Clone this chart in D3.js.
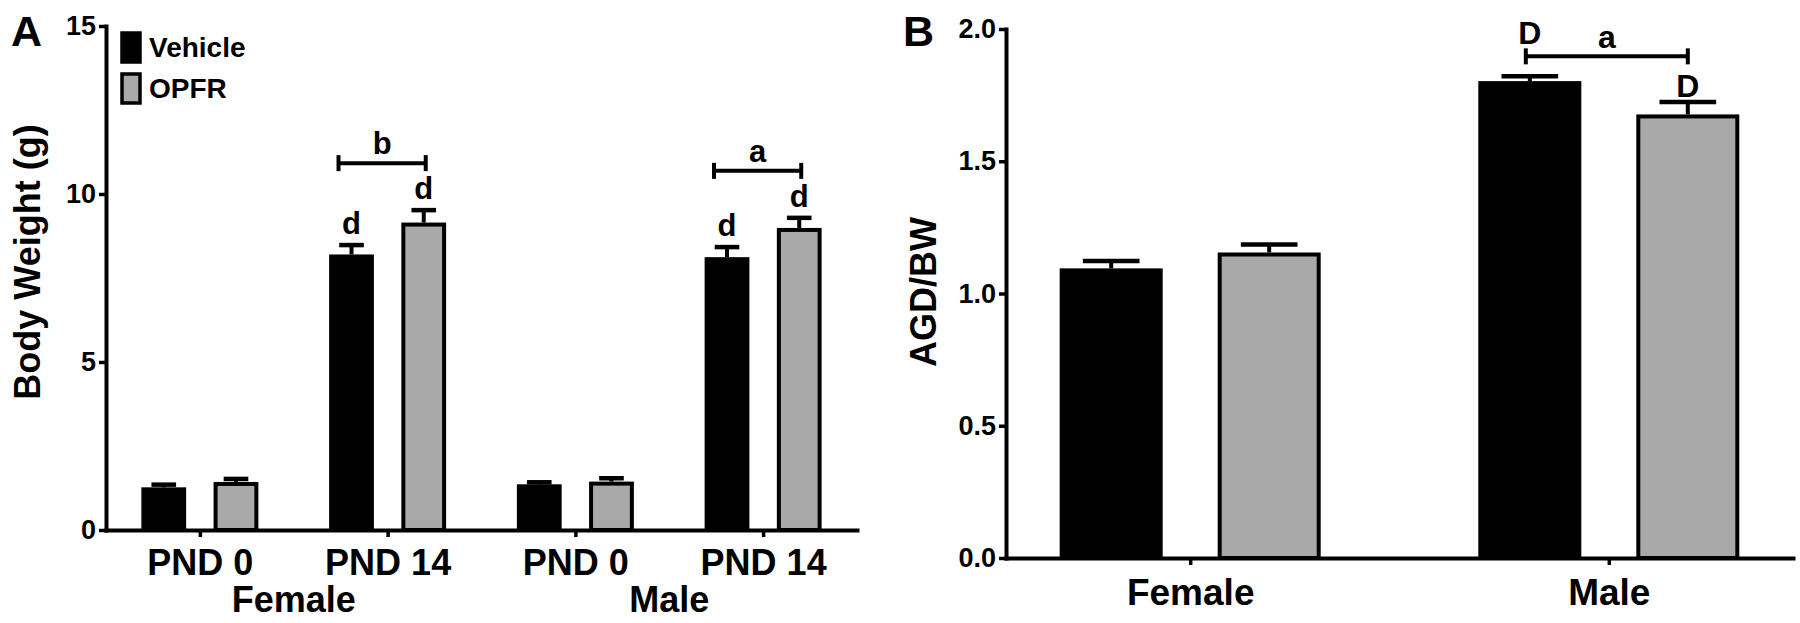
<!DOCTYPE html>
<html>
<head>
<meta charset="utf-8">
<script src="https://cdn.jsdelivr.net/npm/d3@7"></script>
<style>
  body { margin: 0; background: #fff; }
  svg { display: block; font-family: 'Liberation Sans', Arial, Helvetica, sans-serif; font-weight: bold; }
</style>
</head>
<body>
<div id="chart"></div>
<script>
'use strict';

const series = ['Vehicle', 'OPFR'];

// Panel A - body weight (g)
const bwGroups = ['F-PND0', 'F-PND14', 'M-PND0', 'M-PND14'];
const bwGroupLabels = ['PND 0', 'PND 14', 'PND 0', 'PND 14'];
const bwSexLabels = ['Female', 'Male'];
const bwVehicle = [1.27, 8.2, 1.36, 8.12];
const bwVehicleSem = [0.08, 0.28, 0.06, 0.3];
const bwOpfr = [1.43, 9.15, 1.44, 8.99];
const bwOpfrSem = [0.09, 0.37, 0.1, 0.3];
const bwTicks = [0, 5, 10, 15];
const bwLetters = [['', ''], ['d', 'd'], ['', ''], ['d', 'd']];
const bwBrackets = ['', 'b', '', 'a'];

// Panel B - AGD/BW
const agdGroups = ['Female', 'Male'];
const agdVehicle = [1.095, 1.803];
const agdVehicleSem = [0.028, 0.018];
const agdOpfr = [1.155, 1.677];
const agdOpfrSem = [0.03, 0.047];
const agdTicks = [0, 0.5, 1.0, 1.5, 2.0];
const agdLetters = [['', ''], ['D', 'D']];
const agdBrackets = ['', 'a'];

const GREY = '#a9a9a9';
const FONT = "'Liberation Sans', Arial, Helvetica, sans-serif";

const svg = d3.select('#chart').append('svg').attr('width', 1800).attr('height', 623);

const drawPanel = cfg => {
  const x = d3.scalePoint().domain(cfg.groups).range(cfg.xRange).padding(cfg.xPad);
  const inner = d3.scaleBand().domain(series).range([-cfg.half, cfg.half]).paddingInner(cfg.inner);
  const y = d3.scaleLinear().domain(cfg.yDomain).range(cfg.yRange);
  const bw = inner.bandwidth();
  const g = svg.append('g');

  const rows = cfg.groups.flatMap((grp, i) => [
    { grp, i, s: 'Vehicle', v: cfg.vehicle[i], e: cfg.vehicleSem[i], letter: cfg.letters[i][0] },
    { grp, i, s: 'OPFR', v: cfg.opfr[i], e: cfg.opfrSem[i], letter: cfg.letters[i][1] }
  ]);
  const cx = d => x(d.grp) + inner(d.s) + bw / 2;

  // error bars (upper only)
  g.selectAll('line.err').data(rows).join('line')
    .attr('x1', cx).attr('x2', cx)
    .attr('y1', d => y(d.v)).attr('y2', d => y(d.v + d.e))
    .attr('stroke', '#000').attr('stroke-width', 4);
  g.selectAll('line.cap').data(rows).join('line')
    .attr('x1', d => cx(d) - bw * cfg.cap / 2).attr('x2', d => cx(d) + bw * cfg.cap / 2)
    .attr('y1', d => y(d.v + d.e)).attr('y2', d => y(d.v + d.e))
    .attr('stroke', '#000').attr('stroke-width', 4.5);

  // bars
  g.selectAll('rect.bar').data(rows).join('rect')
    .attr('x', d => cx(d) - bw / 2 + 2)
    .attr('y', d => y(d.v) + 2)
    .attr('width', bw - 4)
    .attr('height', d => y(0) - y(d.v) - 2)
    .attr('fill', d => (d.s === 'Vehicle' ? '#000' : GREY))
    .attr('stroke', '#000')
    .attr('stroke-width', 4);

  // axes
  const yAxis = g.append('g')
    .attr('transform', `translate(${cfg.xRange[0]},0)`)
    .call(d3.axisLeft(y).tickValues(cfg.ticks).tickFormat(cfg.fmt).tickSize(7).tickSizeOuter(0).tickPadding(3));
  const xAxis = g.append('g')
    .attr('transform', `translate(0,${cfg.yRange[0]})`)
    .call(d3.axisBottom(x).tickFormat((d, i) => cfg.tickLabels[i]).tickSize(7).tickSizeOuter(0).tickPadding(cfg.xTickPad));
  [yAxis, xAxis].forEach(a => {
    a.attr('font-family', FONT).attr('font-weight', 'bold');
    a.select('.domain').attr('stroke-width', 4).attr('stroke-linecap', 'square');
    a.selectAll('.tick line').attr('stroke-width', 3.5);
    a.selectAll('.tick text').attr('fill', '#000');
  });
  yAxis.attr('font-size', 27);
  xAxis.attr('font-size', cfg.xFont);

  // brackets
  const brackets = cfg.groups.map((grp, i) => ({ grp, i, label: cfg.brackets[i] })).filter(b => b.label);
  const bracketY = {};
  brackets.forEach(b => {
    const pair = rows.filter(r => r.i === b.i);
    const top = d3.min(pair, r => y(r.v + r.e));
    const by = top - cfg.brGap;
    bracketY[b.i] = by;
    const x1 = cx(pair[0]) + cfg.brL;
    const x2 = cx(pair[1]) + cfg.brR;
    g.append('line').attr('x1', x1).attr('x2', x2).attr('y1', by).attr('y2', by)
      .attr('stroke', '#000').attr('stroke-width', 4);
    [x1, x2].forEach(xx => g.append('line').attr('x1', xx).attr('x2', xx)
      .attr('y1', by - 8).attr('y2', by + 8).attr('stroke', '#000').attr('stroke-width', 4));
    g.append('text').attr('x', (x1 + x2) / 2).attr('y', by - cfg.labGap)
      .attr('text-anchor', 'middle').attr('font-size', cfg.letterFont).text(b.label);
  });

  // significance letters
  g.selectAll('text.letter').data(rows.filter(r => r.letter)).join('text')
    .attr('x', cx)
    .attr('y', d => {
      if (cfg.raiseVehicle && d.s === 'Vehicle' && bracketY[d.i] !== undefined) return bracketY[d.i] - 12;
      return y(d.v + d.e) - cfg.letterGap;
    })
    .attr('text-anchor', 'middle')
    .attr('font-size', cfg.letterFont)
    .text(d => d.letter);

  // y title
  g.append('text')
    .attr('transform', `translate(${cfg.titleX},${cfg.titleY}) rotate(-90)`)
    .attr('text-anchor', 'middle')
    .attr('font-size', 36)
    .text(cfg.title);

  return { x, y, g };
};

// Panel A
const A = drawPanel({
  groups: bwGroups, tickLabels: bwGroupLabels,
  vehicle: bwVehicle, vehicleSem: bwVehicleSem, opfr: bwOpfr, opfrSem: bwOpfrSem,
  letters: bwLetters, brackets: bwBrackets, ticks: bwTicks, fmt: d3.format('d'),
  xRange: [106, 857], xPad: 0.5, half: 58.5, inner: 0.38, cap: 0.55,
  yDomain: [0, 15], yRange: [530, 26],
  xTickPad: 12, xFont: 36,
  brGap: 47, brL: -13, brR: 2, labGap: 9, letterGap: 11, letterFont: 31, raiseVehicle: false,
  title: 'Body Weight (g)', titleX: 40, titleY: 262
});

// sex labels under panel A
bwSexLabels.forEach((lab, i) => {
  const mid = (A.x(bwGroups[i * 2]) + A.x(bwGroups[i * 2 + 1])) / 2;
  A.g.append('text').attr('x', mid).attr('y', 612).attr('text-anchor', 'middle')
    .attr('font-size', 36).text(lab);
});

// legend
const legend = A.g.append('g');
series.forEach((s, i) => {
  legend.append('rect').attr('x', 122).attr('y', 33 + i * 41).attr('width', 18).attr('height', 29)
    .attr('fill', i === 0 ? '#000' : GREY).attr('stroke', '#000').attr('stroke-width', 3.5);
  legend.append('text').attr('x', 149).attr('y', 57 + i * 41).attr('font-size', 28).text(s);
});

// Panel B
drawPanel({
  groups: agdGroups, tickLabels: agdGroups,
  vehicle: agdVehicle, vehicleSem: agdVehicleSem, opfr: agdOpfr, opfrSem: agdOpfrSem,
  letters: agdLetters, brackets: agdBrackets, ticks: agdTicks, fmt: d3.format('.1f'),
  xRange: [1006, 1793], xPad: 0.44, half: 130.5, inner: 0.348, cap: 0.55,
  yDomain: [0, 2], yRange: [558, 29],
  xTickPad: 14, xFont: 37,
  brGap: 20, brL: -4, brR: 0, labGap: 8, letterGap: 5, letterFont: 32, raiseVehicle: true,
  title: 'AGD/BW', titleX: 936, titleY: 292
});

// panel letters
svg.append('text').attr('x', 11).attr('y', 46).attr('font-size', 43).text('A');
svg.append('text').attr('x', 903).attr('y', 46).attr('font-size', 43).text('B');
</script>
</body>
</html>
